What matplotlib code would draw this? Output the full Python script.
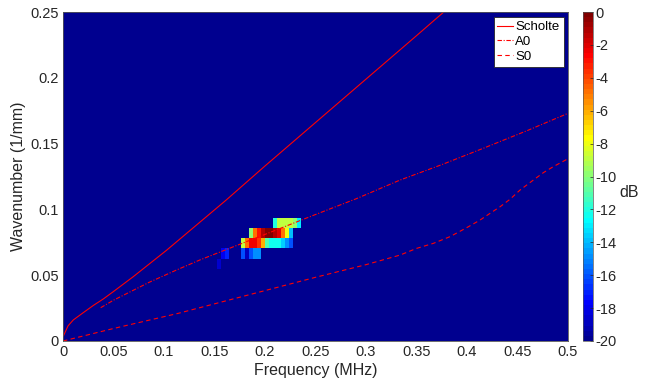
import numpy as np
import matplotlib
matplotlib.use('Agg')
import matplotlib.pyplot as plt
from matplotlib.colors import LinearSegmentedColormap
from matplotlib.ticker import FuncFormatter

plt.rcParams['font.family'] = ['Liberation Sans', 'DejaVu Sans']
plt.rcParams['axes.unicode_minus'] = False

# dispersion curves
scholte_f = [0.0005, 0.005, 0.0102, 0.02, 0.03, 0.04, 0.0498, 0.0696, 0.1026, 0.1614, 0.2, 0.25, 0.3, 0.35, 0.38]
scholte_k = [0.004, 0.0115, 0.016, 0.0215, 0.027, 0.032, 0.0375, 0.0489, 0.069, 0.107, 0.133, 0.166, 0.199, 0.232, 0.252]

a0_f = [0.0373, 0.05, 0.063, 0.085, 0.114, 0.1356, 0.17, 0.2, 0.2446, 0.29, 0.3337, 0.375, 0.416, 0.46, 0.5]
a0_k = [0.0253, 0.031, 0.036, 0.0445, 0.0545, 0.0616, 0.072, 0.081, 0.0945, 0.108, 0.1223, 0.134, 0.1464, 0.160, 0.173]

s0_f = [0, 0.05, 0.114, 0.2, 0.25, 0.3, 0.3337, 0.3502, 0.3667, 0.3832, 0.3997, 0.4129, 0.4228,
        0.4327, 0.4426, 0.4525, 0.4657, 0.4756, 0.4855, 0.5]
s0_k = [0, 0.0095, 0.021, 0.0383, 0.0484, 0.058, 0.0653, 0.0704, 0.0742, 0.0793, 0.0861, 0.0919, 0.097,
        0.102, 0.1077, 0.1147, 0.1223, 0.1279, 0.1325, 0.1385]

# spectrum cells (dB), rest of the map is at the -20 floor
f_step = 0.004
n_f = 125
n_k = 32
blob_row = [7, 8, 9, 10, 11]
blob_start = [38, 39, 44, 46, 52]
blob_vals = [
    [-18.5],
    [-18, -17, -20, -20, -20, -16, -19, -16, -15, -15],
    [-9, -5, -2.5, -2.5, -3.5, -6, -11, -12.5, -12.5, -12.5, -13.5, -15, -16],
    [-10, -5, -3, -1, 0, 0, -1, -2, -5, -8, -14],
    [-12, -9, -9, -9, -9, -10, -13],
]

Z = np.full((n_k, n_f), -20.0)
for r, s, v in zip(blob_row, blob_start, blob_vals):
    Z[r, s:s + len(v)] = v

f_edges = np.arange(n_f + 1) * f_step
k_edges = np.linspace(0, 0.25, n_k + 1)

# MATLAB style jet(64)
jet64 = LinearSegmentedColormap.from_list('mjet', [
    (0.0, (0, 0, 0.5625)),
    (7 / 63, (0, 0, 1)),
    (23 / 63, (0, 1, 1)),
    (39 / 63, (1, 1, 0)),
    (55 / 63, (1, 0, 0)),
    (1.0, (0.5, 0, 0)),
], N=64)

fig = plt.figure(figsize=(6.52, 3.9), dpi=100)
ax = fig.add_axes([63 / 652, 49 / 390, 505 / 652, 329 / 390])
cax = fig.add_axes([583 / 652, 49 / 390, 10 / 652, 329 / 390])

mesh = ax.pcolormesh(f_edges, k_edges, Z, cmap=jet64, vmin=-20, vmax=0, shading='flat')

ax.plot(scholte_f, scholte_k, color='red', lw=0.8, ls='-', label='Scholte')
ax.plot(a0_f, a0_k, color='red', lw=0.8, ls=(0, (4, 1.5, 1, 1.5)), label='A0')
ax.plot(s0_f, s0_k, color='red', lw=0.8, ls=(0, (4, 3)), label='S0')

ax.set_xlim(0, 0.5)
ax.set_ylim(0, 0.25)
ax.set_xticks(np.arange(0, 0.51, 0.05))
ax.set_yticks(np.arange(0, 0.26, 0.05))
fmt = FuncFormatter(lambda v, p: '%g' % round(v, 3))
ax.xaxis.set_major_formatter(fmt)
ax.yaxis.set_major_formatter(fmt)
ax.tick_params(direction='in', length=0, colors='#262626', labelsize=10.5, pad=3)
for sp in ax.spines.values():
    sp.set_color('#555555')
    sp.set_linewidth(0.6)

ax.set_xlabel('Frequency (MHz)', fontsize=11.5, color='#262626', labelpad=3)
ax.set_ylabel('Wavenumber (1/mm)', fontsize=11.5, color='#262626', labelpad=3)

leg = ax.legend(loc='upper right', bbox_to_anchor=(1 - 4.5 / 505, 1 - 5 / 329), fontsize=9.5,
                frameon=True, fancybox=False, framealpha=1, edgecolor='#262626',
                handlelength=1.15, handletextpad=0.2, labelspacing=0.2, borderpad=0.3,
                borderaxespad=0)
leg.get_frame().set_linewidth(0.6)

cb = fig.colorbar(mesh, cax=cax, ticks=np.arange(-20, 1, 2))
cb.outline.set_linewidth(0.5)
cb.outline.set_edgecolor('#555555')
cax.tick_params(direction='in', length=2.5, width=0.5, colors='#262626', labelsize=10.5, pad=2)
cax.set_yticklabels(['%d' % t for t in np.arange(-20, 1, 2)])
cax.set_ylabel('dB', fontsize=11.5, color='#262626', rotation=0, labelpad=4, va='center', ha='left')
cax.yaxis.set_label_coords(3.6, 0.45)

fig.savefig('out.png', dpi=100)
